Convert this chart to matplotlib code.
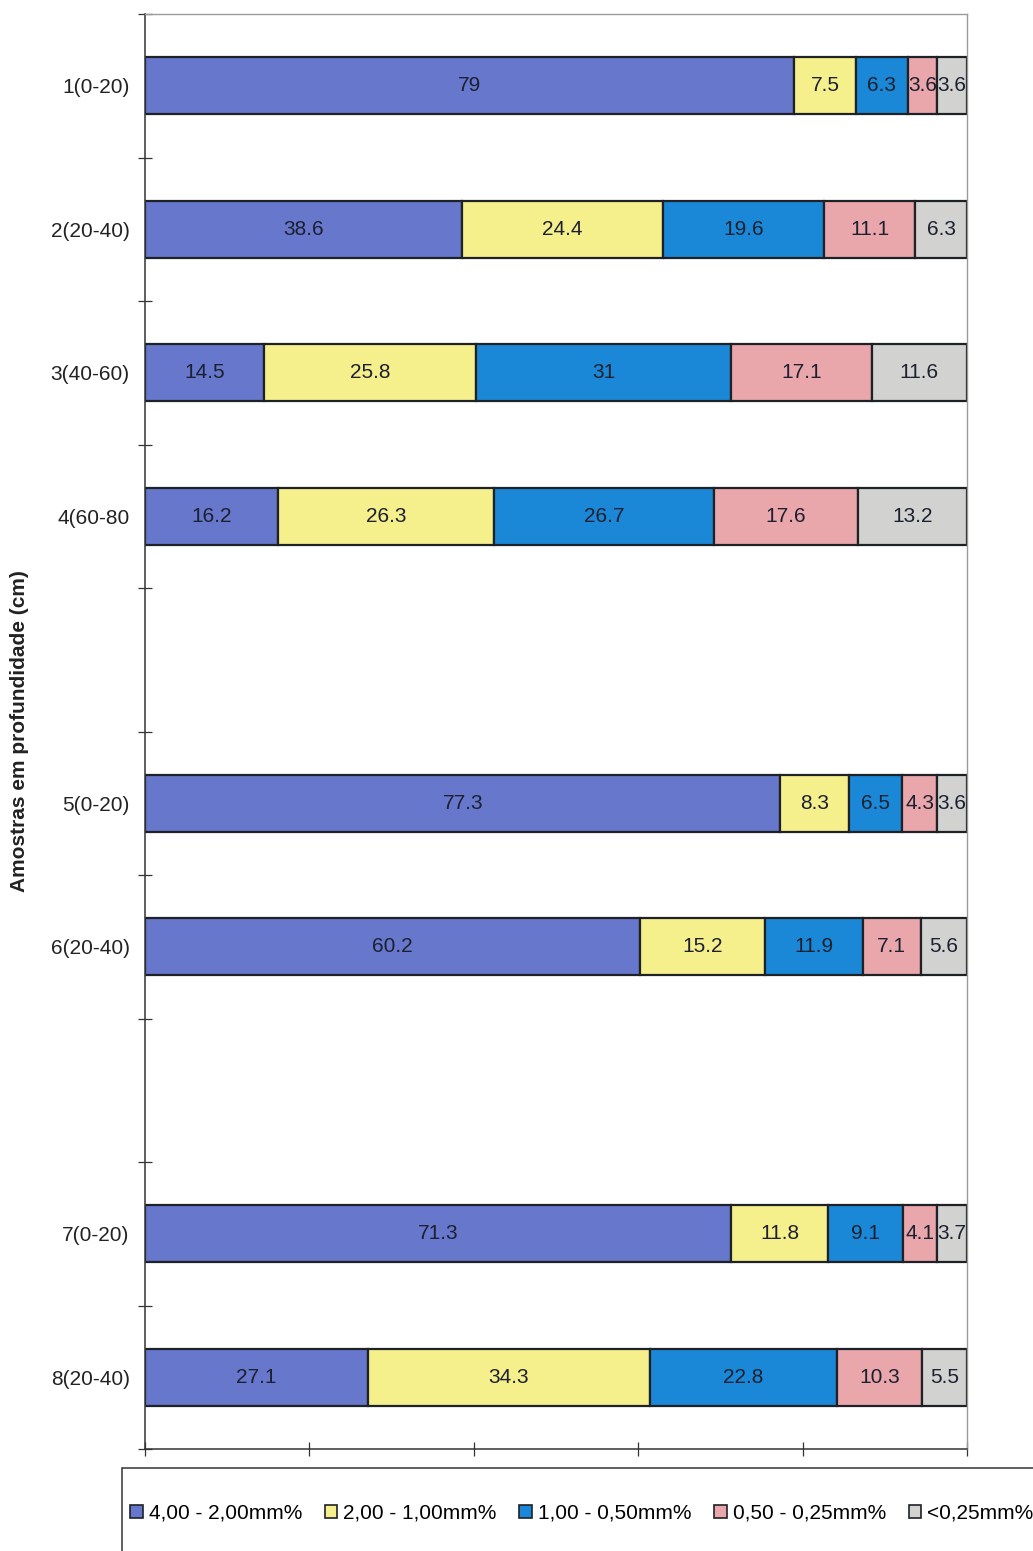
import matplotlib
matplotlib.use("Agg")
import matplotlib.pyplot as plt
from matplotlib.patches import Patch, Rectangle
import numpy as np

plt.rcParams['font.family'] = ['Liberation Sans', 'DejaVu Sans']

# Sample labels and their slot positions on the y axis (slots 4 and 7 left empty)
samples = ["1(0-20)", "2(20-40)", "3(40-60)", "4(60-80", "5(0-20)", "6(20-40)", "7(0-20)", "8(20-40)"]
slots = [0, 1, 2, 3, 5, 6, 8, 9]
n_slots = 10

fractions = ["4,00 - 2,00mm%", "2,00 - 1,00mm%", "1,00 - 0,50mm%", "0,50 - 0,25mm%", "<0,25mm%"]
f_400_200 = [79, 38.6, 14.5, 16.2, 77.3, 60.2, 71.3, 27.1]
f_200_100 = [7.5, 24.4, 25.8, 26.3, 8.3, 15.2, 11.8, 34.3]
f_100_050 = [6.3, 19.6, 31, 26.7, 6.5, 11.9, 9.1, 22.8]
f_050_025 = [3.6, 11.1, 17.1, 17.6, 4.3, 7.1, 4.1, 10.3]
f_lt_025 = [3.6, 6.3, 11.6, 13.2, 3.6, 5.6, 3.7, 5.5]
series = [f_400_200, f_200_100, f_100_050, f_050_025, f_lt_025]

colors = ["#6677CC", "#F6F08C", "#1A88D6", "#E9A6AB", "#D2D3D0"]
edge = "#1E2226"
txt = "#1C2030"
fs = 15

fig = plt.figure(figsize=(10.33, 15.51), dpi=100)
ax = fig.add_axes([145/1033, 1-1449/1551, (967-145)/1033, (1449-14)/1551])

left = np.zeros(len(samples))
for vals, col in zip(series, colors):
    vals = np.array(vals, dtype=float)
    ax.barh(slots, vals, left=left, height=0.4, color=col, edgecolor=edge, linewidth=1.6)
    for s, l, v in zip(slots, left, vals):
        ax.text(l + v/2, s, f"{v:g}", ha="center", va="center", fontsize=fs, color=txt)
    left += vals

ax.set_xlim(0, 100)
ax.set_ylim(n_slots - 0.5, -0.5)
ax.set_xticks(np.arange(0, 101, 20))
ax.set_xticklabels([])
ax.set_yticks(np.arange(-0.5, n_slots, 1.0))
ax.set_yticklabels([])
ax.set_yticks(slots, minor=True)
ax.set_yticklabels(samples, minor=True, fontsize=fs, color="#222222")
ax.tick_params(axis="y", which="minor", length=0, pad=11)
ax.tick_params(axis="y", which="major", direction="inout", length=10, width=0.9, color="#333333")
ax.tick_params(axis="x", which="major", direction="inout", length=10, width=0.9, color="#333333")

for side in ("left", "bottom"):
    ax.spines[side].set_color("#333333")
    ax.spines[side].set_linewidth(1.1)
for side in ("top", "right"):
    ax.spines[side].set_color("#9A9A9A")
    ax.spines[side].set_linewidth(1.0)

fig.text(20/1033, 1-731/1551, "Amostras em profundidade (cm)", rotation=90,
         ha="center", va="center", fontsize=fs, fontweight="bold", color="#222222")

# Legend frame extending past the figure edges
fig.patches.append(Rectangle((122/1033, -0.02), 1.0, (1-1468/1551) + 0.02,
                             transform=fig.transFigure, facecolor="white",
                             edgecolor="#333333", linewidth=1.1))
handles = [Patch(facecolor=c, edgecolor=edge, linewidth=1.2) for c in colors]
fig.legend(handles, fractions, loc="center left", bbox_to_anchor=(130/1033, 1-1513/1551),
           ncol=5, frameon=False, fontsize=fs, handlelength=0.6, handleheight=0.6,
           handletextpad=0.3, columnspacing=1.08, borderaxespad=0, borderpad=0.0)

fig.savefig("out.png", dpi=100, facecolor="white")
